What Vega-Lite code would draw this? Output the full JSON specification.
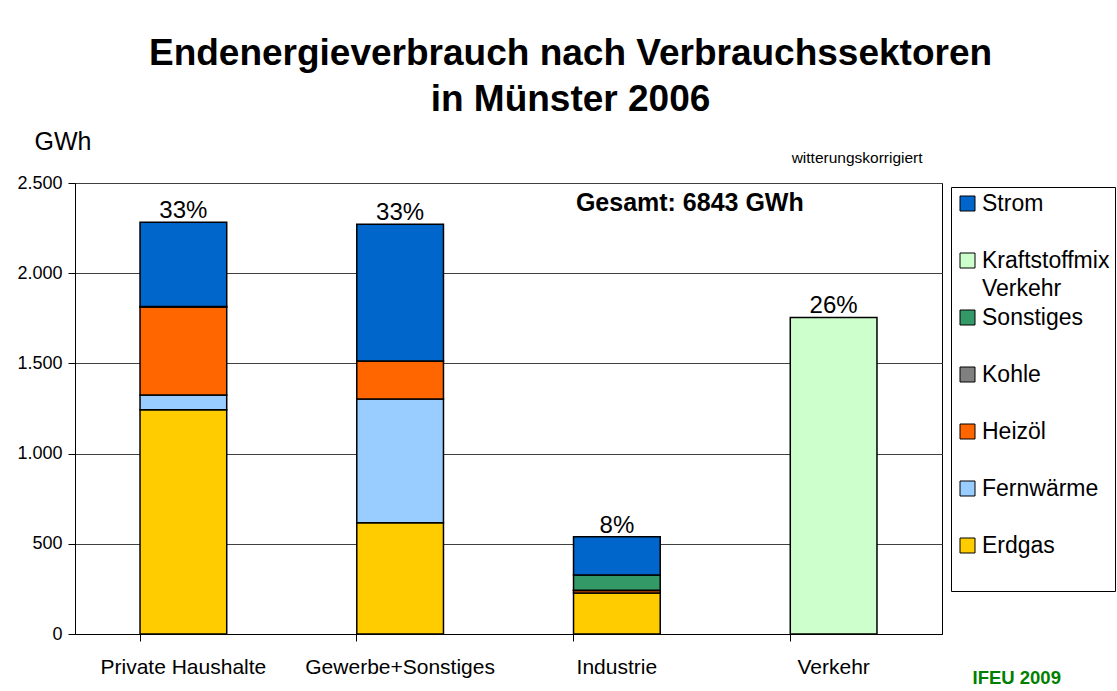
{
  "$schema": "https://vega.github.io/schema/vega-lite/v6.json",
  "width": 867,
  "height": 451,
  "autosize": {"type": "none"},
  "padding": {"left": 75, "top": 183, "right": 175, "bottom": 57},
  "background": "white",
  "config": {
    "font": "Liberation Sans",
    "view": {"stroke": "#000", "strokeWidth": 1},
    "text": {"font": "Liberation Sans", "color": "#000"},
    "style": {"guide-label": {"lineHeight": 28}}
  },
  "title": {
    "text": ["Endenergieverbrauch nach Verbrauchssektoren", "in Münster 2006"],
    "fontSize": 37,
    "fontWeight": "bold",
    "font": "Liberation Sans",
    "color": "#000",
    "lineHeight": 46,
    "anchor": "middle",
    "frame": "group",
    "baseline": "bottom",
    "dx": 62,
    "offset": -27
  },
  "datasets": {
    "anteile": [
      {"sektor": "Private Haushalte", "anteil": "33%"},
      {"sektor": "Gewerbe+Sonstiges", "anteil": "33%"},
      {"sektor": "Industrie", "anteil": "8%"},
      {"sektor": "Verkehr", "anteil": "26%"}
    ]
  },
  "data": {
    "values": [
      {"sektor": "Private Haushalte", "traeger": "Erdgas", "wert": 1243},
      {"sektor": "Private Haushalte", "traeger": "Fernwärme", "wert": 82},
      {"sektor": "Private Haushalte", "traeger": "Heizöl", "wert": 488},
      {"sektor": "Private Haushalte", "traeger": "Kohle", "wert": 2},
      {"sektor": "Private Haushalte", "traeger": "Strom", "wert": 467},
      {"sektor": "Gewerbe+Sonstiges", "traeger": "Erdgas", "wert": 617},
      {"sektor": "Gewerbe+Sonstiges", "traeger": "Fernwärme", "wert": 686},
      {"sektor": "Gewerbe+Sonstiges", "traeger": "Heizöl", "wert": 210},
      {"sektor": "Gewerbe+Sonstiges", "traeger": "Strom", "wert": 758},
      {"sektor": "Industrie", "traeger": "Erdgas", "wert": 227},
      {"sektor": "Industrie", "traeger": "Heizöl", "wert": 14},
      {"sektor": "Industrie", "traeger": "Kohle", "wert": 2},
      {"sektor": "Industrie", "traeger": "Sonstiges", "wert": 84},
      {"sektor": "Industrie", "traeger": "Strom", "wert": 212},
      {"sektor": "Verkehr", "traeger": "Kraftstoffmix Verkehr", "wert": 1755}
    ]
  },
  "layer": [
    {
      "mark": {"type": "bar", "stroke": "#000", "strokeWidth": 1.5},
      "encoding": {
        "x": {
          "field": "sektor",
          "type": "nominal",
          "sort": ["Private Haushalte", "Gewerbe+Sonstiges", "Industrie", "Verkehr"],
          "scale": {"paddingInner": 0.6, "paddingOuter": 0.3},
          "axis": {
            "title": "IFEU 2009",
            "titleX": 897,
            "titleY": 49,
            "titleAlign": "left",
            "titleBaseline": "alphabetic",
            "titleFontSize": 18.5,
            "titleFontWeight": "bold",
            "titleColor": "#008000",
            "labelAngle": 0,
            "labelFontSize": 21,
            "labelColor": "#000",
            "labelLimit": 400,
            "labelPadding": 15,
            "tickSize": 7,
            "tickColor": "#000",
            "domainColor": "#000",
            "bandPosition": 0,
            "grid": false
          }
        },
        "y": {
          "field": "wert",
          "type": "quantitative",
          "stack": "zero",
          "scale": {"domain": [0, 2500], "nice": false},
          "axis": {
            "title": "GWh",
            "titleAngle": 0,
            "titleAlign": "left",
            "titleBaseline": "alphabetic",
            "titleX": -41,
            "titleY": -34,
            "titleFontSize": 25,
            "titleFontWeight": "normal",
            "titleColor": "#000",
            "values": [0, 500, 1000, 1500, 2000, 2500],
            "labelExpr": "replace(format(datum.value, ','), ',', '.')",
            "labelFontSize": 18,
            "labelColor": "#000",
            "labelPadding": 6,
            "tickSize": 7,
            "tickColor": "#000",
            "domainColor": "#000",
            "grid": true,
            "gridColor": "#404040",
            "gridWidth": 1
          }
        },
        "color": {
          "field": "traeger",
          "type": "nominal",
          "scale": {
            "domain": ["Strom", "Kraftstoffmix Verkehr", "Sonstiges", "Kohle", "Heizöl", "Fernwärme", "Erdgas"],
            "range": ["#0066CC", "#CCFFCC", "#339966", "#808080", "#FF6600", "#99CCFF", "#FFCC00"]
          },
          "legend": {
            "title": null,
            "orient": "none",
            "legendX": 876,
            "legendY": 4,
            "symbolType": "square",
            "symbolSize": 225,
            "symbolStrokeColor": "#000",
            "symbolStrokeWidth": 1,
            "labelFontSize": 23,
            "labelColor": "#000",
            "labelOffset": 3,
            "labelLimit": 300,
            "labelExpr": "datum.label === 'Kraftstoffmix Verkehr' ? ['Kraftstoffmix', 'Verkehr'] : [datum.label, ' ']",
            "rowPadding": 5,
            "padding": 5,
            "strokeColor": "#000",
            "fillColor": "#fff"
          }
        },
        "order": {"field": "traeger", "sort": "ascending"}
      }
    },
    {
      "transform": [
        {"aggregate": [{"op": "sum", "field": "wert", "as": "gesamt"}], "groupby": ["sektor"]},
        {"lookup": "sektor", "from": {"data": {"name": "anteile"}, "key": "sektor", "fields": ["anteil"]}}
      ],
      "mark": {"type": "text", "fontSize": 24, "baseline": "alphabetic", "dy": -4},
      "encoding": {
        "x": {"field": "sektor", "type": "nominal", "sort": ["Private Haushalte", "Gewerbe+Sonstiges", "Industrie", "Verkehr"]},
        "y": {"field": "gesamt", "type": "quantitative"},
        "text": {"field": "anteil"}
      }
    },
    {
      "data": {"values": [{"text": "Gesamt: 6843 GWh"}]},
      "mark": {"type": "text", "align": "left", "baseline": "alphabetic", "fontSize": 25, "fontWeight": "bold", "dx": -41, "dy": 28},
      "encoding": {
        "x": {"datum": "Industrie", "type": "nominal"},
        "y": {"datum": 2500, "type": "quantitative"},
        "text": {"field": "text"}
      }
    },
    {
      "data": {"values": [{"text": "witterungskorrigiert"}]},
      "mark": {"type": "text", "align": "left", "baseline": "alphabetic", "fontSize": 15.5, "dx": -42, "dy": -20},
      "encoding": {
        "x": {"datum": "Verkehr", "type": "nominal"},
        "y": {"datum": 2500, "type": "quantitative"},
        "text": {"field": "text"}
      }
    }
  ]
}
